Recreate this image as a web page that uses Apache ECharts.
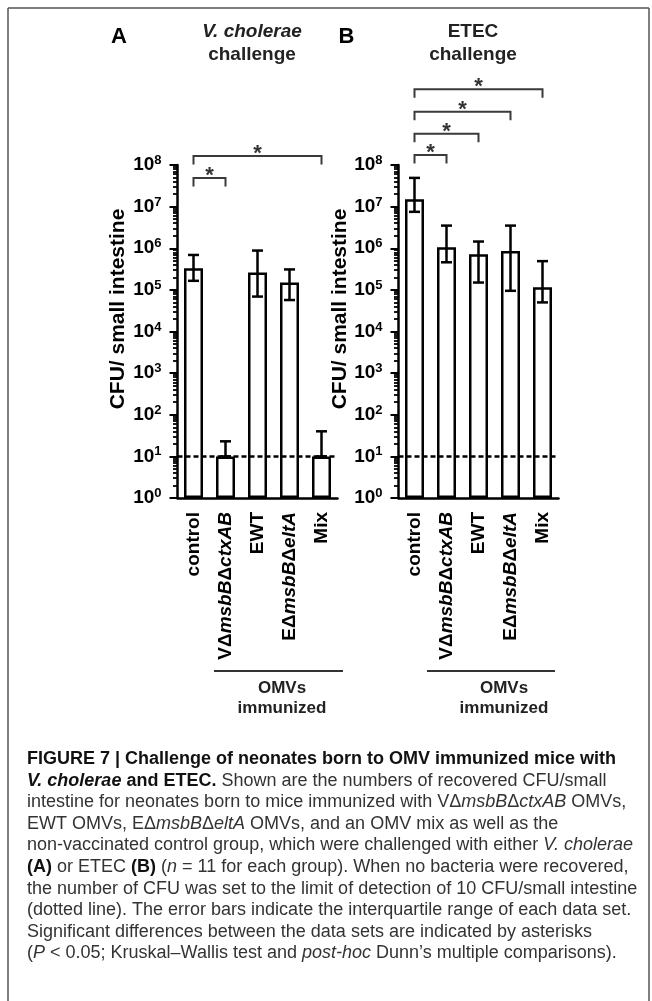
<!DOCTYPE html>
<html>
<head>
<meta charset="utf-8">
<script src="https://cdn.jsdelivr.net/npm/echarts@6/dist/echarts.min.js"></script>
<style>html,body{margin:0;padding:0;background:#fff}#c{width:652px;height:1001px}</style>
</head>
<body>
<div id="c"></div>
<script>
const FONT = '"Liberation Sans", Arial, Helvetica, sans-serif';

// ---------- data ----------
const categories = ['control', 'VΔmsbBΔctxAB', 'EWT', 'EΔmsbBΔeltA', 'Mix'];
const categoryLabels = ['control', 'VΔ{i|msbB}Δ{i|ctxAB}', 'EWT', 'EΔ{i|msbB}Δ{i|eltA}', 'Mix'];

// Panel A: V. cholerae challenge (median, interquartile range)
const valuesA = [3.3e5, 10, 2.6e5, 1.5e5, 10];
const lowA    = [1.65e5, 10, 6.9e4, 5.7e4, 10];
const highA   = [6.9e5, 23, 8.8e5, 3.1e5, 40];

// Panel B: ETEC challenge
const valuesB = [1.5e7, 1.05e6, 7.2e5, 8.6e5, 1.16e5];
const lowB    = [7.5e6, 4.6e5, 1.5e5, 9.5e4, 5.0e4];
const highB   = [4.9e7, 3.5e6, 1.45e6, 3.5e6, 4.9e5];

// y axis ticks
const yTickValues = [1, 10, 100, 1e3, 1e4, 1e5, 1e6, 1e7, 1e8];
const minorMultipliers = [2, 3, 4, 5, 6, 7, 8, 9];
const limitOfDetection = 10;

// significance brackets: [fromCategory, level (data units), toCategory]
const bracketsA = [[0, 4.9e7, 1], [0, 1.65e8, 4]];
const bracketsB = [[0, 1.74e8, 1], [0, 5.6e8, 2], [0, 1.9e9, 3], [0, 6.6e9, 4]];

// caption
const captionLines = [
  '{b|FIGURE 7 | Challenge of neonates born to OMV immunized mice with}',
  '{bi|V. cholerae}{b| and ETEC.} Shown are the numbers of recovered CFU/small',
  'intestine for neonates born to mice immunized with VΔ{i|msbB}Δ{i|ctxAB} OMVs,',
  'EWT OMVs, EΔ{i|msbB}Δ{i|eltA} OMVs, and an OMV mix as well as the',
  'non-vaccinated control group, which were challenged with either {i|V. cholerae}',
  '{b|(A)} or ETEC {b|(B)} ({i|n} = 11 for each group). When no bacteria were recovered,',
  'the number of CFU was set to the limit of detection of 10 CFU/small intestine',
  '(dotted line). The error bars indicate the interquartile range of each data set.',
  'Significant differences between the data sets are indicated by asterisks',
  '({i|P} < 0.05; Kruskal–Wallis test and {i|post-hoc} Dunn\u2019s multiple comparisons).'
];

// ---------- build ----------
const minorTickValues = [];
for (let k = 0; k < 8; k++) minorMultipliers.forEach(m => minorTickValues.push(m * Math.pow(10, k)));

const grids = [
  {left: 177.5, top: 165, width: 160, height: 333},
  {left: 398.5, top: 165, width: 160, height: 333}
];

function xAxisFor(g) {
  return {
    type: 'category', gridIndex: g, data: categories, boundaryGap: true,
    axisLine: {lineStyle: {color: '#000', width: 2.5}},
    axisTick: {alignWithLabel: true, length: 8, lineStyle: {color: '#000', width: 2.5}},
    axisLabel: {
      interval: 0, rotate: 90, margin: 14, color: '#000',
      fontSize: 19, fontWeight: 'bold', fontFamily: FONT,
      formatter: (v, i) => categoryLabels[i],
      rich: {i: {fontSize: 19, fontWeight: 'bold', fontStyle: 'italic', fontFamily: FONT, color: '#000'}}
    },
    splitLine: {show: false}
  };
}
function yMainFor(g) {
  return {
    type: 'log', logBase: 10, gridIndex: g, min: 1, max: 1e8, position: 'left',
    axisLine: {show: true, lineStyle: {color: '#000', width: 2.5}},
    axisTick: {show: true, length: 8, lineStyle: {color: '#000', width: 2}, customValues: yTickValues},
    axisLabel: {
      margin: 16, customValues: yTickValues,
      formatter: v => '{b|10}{s|' + Math.round(Math.log10(v)) + '}',
      rich: {
        b: {fontSize: 19, fontWeight: 'bold', fontFamily: FONT, color: '#000', lineHeight: 22},
        s: {fontSize: 13, fontWeight: 'bold', fontFamily: FONT, color: '#000', lineHeight: 12, verticalAlign: 'top'}
      }
    },
    splitLine: {show: false}
  };
}
function yMinorFor(g) {
  return {
    type: 'log', logBase: 10, gridIndex: g, min: 1, max: 1e8, position: 'left', offset: 0,
    axisLine: {show: false},
    axisLabel: {show: false},
    splitLine: {show: false},
    axisTick: {show: true, length: 4.5, lineStyle: {color: '#000', width: 1.8}, customValues: minorTickValues}
  };
}

function barSeries(g, values) {
  return {
    type: 'bar', xAxisIndex: g, yAxisIndex: g * 2, data: values, barWidth: 19, z: 2,
    itemStyle: {color: '#fff', borderColor: '#000', borderWidth: 2.5},
    silent: true
  };
}
function errorSeries(g, low, high) {
  return {
    type: 'custom', xAxisIndex: g, yAxisIndex: g * 2, z: 5, silent: true,
    data: low.map((lo, i) => [i, lo, high[i]]),
    encode: {x: 0, y: 1},
    renderItem: (params, api) => {
      const lo = api.coord([api.value(0), api.value(1)]);
      const hi = api.coord([api.value(0), api.value(2)]);
      const hw = 5.5;
      const st = {stroke: '#000', lineWidth: 2.5};
      return {type: 'group', children: [
        {type: 'line', shape: {x1: lo[0], y1: lo[1], x2: hi[0], y2: hi[1]}, style: st},
        {type: 'line', shape: {x1: lo[0] - hw, y1: lo[1], x2: lo[0] + hw, y2: lo[1]}, style: st},
        {type: 'line', shape: {x1: hi[0] - hw, y1: hi[1], x2: hi[0] + hw, y2: hi[1]}, style: st}
      ]};
    },
    markLine: {
      silent: true, symbol: 'none', label: {show: false},
      lineStyle: {color: '#000', width: 2.5, type: [5, 3]},
      data: [{yAxis: limitOfDetection}]
    }
  };
}
function bracketSeries(g, brackets) {
  return {
    type: 'custom', xAxisIndex: g, yAxisIndex: g * 2, z: 6, silent: true, clip: false,
    data: brackets,
    encode: {x: 0, y: 1},
    renderItem: (params, api) => {
      const p1 = api.coord([api.value(0), api.value(1)]);
      const p2 = api.coord([api.value(2), api.value(1)]);
      const y = p1[1], leg = 8.5;
      return {type: 'group', children: [
        {type: 'polyline', shape: {points: [[p1[0], y + leg], [p1[0], y], [p2[0], y], [p2[0], y + leg]]},
         style: {stroke: '#3a3a3a', lineWidth: 2, fill: null}},
        {type: 'text', x: (p1[0] + p2[0]) / 2, y: y - 2,
         style: {text: '*', font: 'bold 22px ' + FONT, fill: '#333', align: 'center', verticalAlign: 'middle'}}
      ]};
    }
  };
}

function txt(x, y, text, font, fill, extra) {
  return Object.assign({type: 'text', x: x, y: y, silent: true,
    style: {text: text, font: font, fill: fill || '#000', align: 'center', verticalAlign: 'middle'}}, extra || {});
}

const frameStyle = {stroke: '#555', lineWidth: 1.5};
const graphics = [
  {type: 'line', silent: true, shape: {x1: 8, y1: 8, x2: 649, y2: 8}, style: frameStyle},
  {type: 'line', silent: true, shape: {x1: 8, y1: 8, x2: 8, y2: 1001}, style: frameStyle},
  {type: 'line', silent: true, shape: {x1: 649, y1: 8, x2: 649, y2: 1001}, style: frameStyle},
  txt(119, 37, 'A', 'bold 22px ' + FONT, '#000'),
  txt(252, 32, 'V. cholerae', 'italic bold 19px ' + FONT, '#222'),
  txt(252, 55, 'challenge', 'bold 19px ' + FONT, '#222'),
  txt(346.5, 37, 'B', 'bold 22px ' + FONT, '#000'),
  txt(473, 32, 'ETEC', 'bold 19px ' + FONT, '#222'),
  txt(473, 55, 'challenge', 'bold 19px ' + FONT, '#222'),
  txt(118.5, 309, 'CFU/ small intestine', 'bold 21px ' + FONT, '#000', {rotation: Math.PI / 2}),
  txt(340.5, 309, 'CFU/ small intestine', 'bold 21px ' + FONT, '#000', {rotation: Math.PI / 2}),
  {type: 'line', silent: true, shape: {x1: 214, y1: 671, x2: 343, y2: 671}, style: {stroke: '#333', lineWidth: 2}},
  {type: 'line', silent: true, shape: {x1: 427, y1: 671, x2: 555, y2: 671}, style: {stroke: '#333', lineWidth: 2}},
  txt(282, 688, 'OMVs', 'bold 17px ' + FONT, '#222'),
  txt(282, 708, 'immunized', 'bold 17px ' + FONT, '#222'),
  txt(504, 688, 'OMVs', 'bold 17px ' + FONT, '#222'),
  txt(504, 708, 'immunized', 'bold 17px ' + FONT, '#222')
];
const capRich = {
  b:  {font: 'bold 18px ' + FONT, fill: '#111', color: '#111'},
  bi: {font: 'italic bold 18px ' + FONT, fill: '#111', color: '#111'},
  i:  {font: 'italic 18px ' + FONT, fill: '#333', color: '#333'}
};
captionLines.forEach((line, k) => {
  graphics.push({type: 'text', x: 27, y: 759 + k * 21.6, silent: true,
    style: {text: line, font: '18px ' + FONT, fill: '#333', align: 'left', verticalAlign: 'middle', rich: capRich}});
});

const chart = echarts.init(document.getElementById('c'), null, {renderer: 'canvas'});
chart.setOption({
  animation: false,
  backgroundColor: '#fff',
  grid: grids,
  xAxis: [xAxisFor(0), xAxisFor(1)],
  yAxis: [yMainFor(0), yMinorFor(0), yMainFor(1), yMinorFor(1)],
  series: [
    barSeries(0, valuesA), errorSeries(0, lowA, highA), bracketSeries(0, bracketsA),
    barSeries(1, valuesB), errorSeries(1, lowB, highB), bracketSeries(1, bracketsB)
  ],
  graphic: graphics
});
</script>
</body>
</html>
